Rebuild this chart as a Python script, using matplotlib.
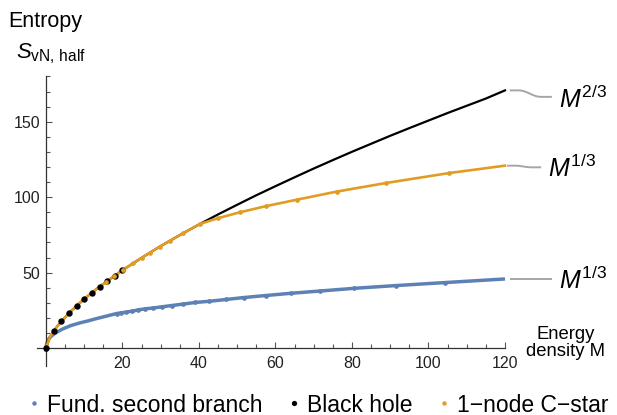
import numpy as np
import matplotlib
matplotlib.use("Agg")
import matplotlib.pyplot as plt
from matplotlib.lines import Line2D

plt.rcParams['font.family'] = ['Liberation Sans', 'DejaVu Sans']
plt.rcParams['mathtext.fontset'] = 'custom'
plt.rcParams['mathtext.rm'] = 'Liberation Sans'
plt.rcParams['mathtext.it'] = 'Liberation Sans:italic'
plt.rcParams['mathtext.bf'] = 'Liberation Sans:bold'

# ---------------- data ----------------
# Black hole: smooth curve and marked points
bh_line_x = [0, 1, 2, 3, 4, 6, 8, 10, 12, 14, 16, 18, 20, 25, 30, 35, 40, 45, 50, 55,
             60, 65, 70, 75, 80, 85, 90, 95, 100, 105, 110, 115, 120]
bh_line_y = [0, 7.0, 11.1, 14.6, 17.6, 23.1, 28.0, 32.5, 36.7, 40.6, 44.4, 48.0, 51.6, 59.8,
             67.6, 74.9, 81.9, 88.6, 95.0, 101.3, 107.3, 113.2, 119.0, 124.6, 130.1, 135.4,
             140.7, 145.8, 150.8, 155.8, 160.6, 165.4, 170.8]
bh_pts_x = [0, 2, 4, 6, 8, 10, 12, 14, 16, 18, 20]
bh_pts_y = [0, 11.1, 17.6, 23.1, 28.0, 32.5, 36.7, 40.6, 44.4, 48.0, 51.6]

# 1-node C-star
cs_line_x = [0, 1, 2, 3, 4, 6, 8, 10, 12, 14, 15.7, 17.7, 20.2, 22.8, 25.0, 27.2, 29.8,
             32.4, 35.9, 40.2, 45.0, 50.7, 57.4, 65.7, 76.0, 88.9, 105.4, 120]
cs_line_y = [0, 7.0, 11.1, 14.6, 17.6, 23.1, 28.0, 32.5, 36.7, 40.6, 43.8, 47.5, 51.9, 56.3,
             59.8, 63.3, 67.3, 71.1, 76.2, 82.2, 86.1, 90.0, 94.0, 98.4, 103.7, 109.4, 116.0, 120.9]
cs_pts_x = [15.7, 17.7, 20.2, 22.8, 25.0, 27.2, 29.8, 32.4, 35.9, 40.2, 45.0, 50.7, 57.4,
            65.7, 76.0, 88.9, 105.4]
cs_pts_y = [43.8, 47.5, 51.9, 56.3, 59.8, 63.3, 67.3, 71.1, 76.2, 82.2, 86.1, 90.0, 94.0,
            98.4, 103.7, 109.4, 116.0]

# Fundamental second branch
fb_line_x = [0, 0.05, 0.15, 0.3, 0.6, 1.0, 1.6, 2.35, 3.3, 4.5, 6.5, 8.9, 11.0, 13.3, 16.0,
             18.5, 19.6, 20.9, 22.4, 24.1, 25.9, 28.1, 30.2, 32.9, 35.7, 39.0, 42.7, 47.1,
             51.8, 57.4, 64.0, 71.6, 80.6, 91.4, 104.3, 120]
fb_line_y = [-2.5, 0.5, 2.4, 3.9, 5.6, 6.9, 8.3, 9.7, 11.2, 12.8, 14.9, 16.7, 18.0, 19.6, 21.3,
             22.9, 23.3, 23.8, 24.4, 25.3, 26.0, 26.6, 27.3, 28.2, 29.1, 30.2, 31.0, 32.2,
             33.5, 34.8, 36.3, 37.8, 39.6, 41.4, 43.4, 45.8]
fb_pts_x = [18.5, 19.6, 20.9, 22.4, 24.1, 25.9, 28.1, 30.2, 32.9, 35.7, 39.0, 42.7, 47.1,
            51.8, 57.4, 64.0, 71.6, 80.6, 91.4, 104.3]
fb_pts_y = [22.9, 23.3, 23.8, 24.4, 25.3, 26.0, 26.6, 27.3, 28.2, 29.1, 30.2, 31.0, 32.2,
            33.5, 34.8, 36.3, 37.8, 39.6, 41.4, 43.4]

series_names = ["Fund. second branch", "Black hole", "1\u2212node C\u2212star"]
asym_labels = [r"$M^{2/3}$", r"$M^{1/3}$", r"$M^{1/3}$"]

BLUE = "#5E81B5"
ORANGE = "#E19C24"
BLACK = "#000000"
GRAY = "#A6A6A6"
AXC = "#333333"

W, H = 617, 415
fig = plt.figure(figsize=(W / 100, H / 100), dpi=100)
ax = fig.add_axes([37 / W, 49 / H, 468 / W, 289.5 / H])
ax.set_xlim(-2.35, 120)
ax.set_ylim(-11.9, 180)

# lines
ax.plot(fb_line_x, fb_line_y, color=BLUE, lw=2.5, solid_capstyle='butt', zorder=2, clip_on=False)
ax.plot(fb_pts_x, fb_pts_y, 'o', color=BLUE, ms=3.4, mew=0, zorder=3)
ax.plot(bh_line_x, bh_line_y, color=BLACK, lw=1.6, zorder=4, clip_on=False)
ax.plot(cs_line_x, cs_line_y, color=ORANGE, lw=1.9, zorder=5, clip_on=False)
ax.plot(bh_pts_x, bh_pts_y, 'o', color=BLACK, ms=4.6, mew=0, zorder=6, clip_on=False)
ax.plot(cs_pts_x, cs_pts_y, 'o', color=ORANGE, ms=3.4, mew=0, zorder=7)

# axes styling (Mathematica-like crossing axes)
for s in ['top', 'right']:
    ax.spines[s].set_visible(False)
ax.spines['left'].set_position(('data', 0))
ax.spines['bottom'].set_position(('data', 0))
for s in ['left', 'bottom']:
    ax.spines[s].set_color(AXC)
    ax.spines[s].set_linewidth(0.9)
ax.set_xticks([20, 40, 60, 80, 100, 120])
ax.set_xticks([v for v in range(5, 120, 5) if v % 20 != 0], minor=True)
ax.set_yticks([50, 100, 150])
ax.set_yticks([v for v in range(10, 181, 10) if v % 50 != 0], minor=True)
ax.tick_params(which='both', direction='in', color='#555555', width=0.8,
               labelsize=11.5, labelcolor='#222222')
ax.tick_params(which='major', length=4.5)
ax.tick_params(which='minor', length=2.8)
ax.tick_params(axis='x', pad=6)
ax.tick_params(axis='y', pad=4)

# asymptotic connectors and labels
ends = [(170.8, 166.5, 121.5, 132.0, 134.1, 159.4),
        (120.9, 119.8, 120.8, 129.2, 131.3, 113.2),
        (45.8, 45.8, 121.6, 132.1, 134.1, 39.0)]
for (y0, y1, x0, x1, tx, ty), lab in zip(ends, asym_labels):
    t = np.linspace(0, 1, 40)
    xs = x0 + (x1 - x0) * t
    s = np.clip((t - 0.2) / 0.55, 0, 1)
    ys = y0 + (y1 - y0) * (1 - np.cos(np.pi * s)) / 2
    ax.plot(xs, ys, color=GRAY, lw=1.4, clip_on=False, zorder=1)
    ax.text(tx, ty, lab, fontsize=18, va='baseline', ha='left', color='black')

# axis labels
fig.text(8 / W, 1 - 26.7 / H, "Entropy", fontsize=15.5, va='baseline', ha='left')
fig.text(16 / W, 1 - 58.3 / H, r"$S_{\mathrm{vN,}\/\mathrm{half}}$", fontsize=16,
         va='baseline', ha='left')
fig.text(566 / W, 1 - 343 / H, "Energy\ndensity M", fontsize=13.3, va='center', ha='center',
         multialignment='center', linespacing=1.05)

# legend
handles = [Line2D([], [], ls='none', marker='o', color=c, ms=m, mew=0)
           for c, m in zip([BLUE, BLACK, ORANGE], [3.2, 3.8, 3.2])]
fig.legend(handles, series_names, loc='center', bbox_to_anchor=(0.516, 1 - 405 / H),
           ncol=3, frameon=False, fontsize=16.5, handlelength=0.5, handletextpad=0.3,
           columnspacing=1.15, borderpad=0, borderaxespad=0)

fig.savefig("out.png", dpi=100)
